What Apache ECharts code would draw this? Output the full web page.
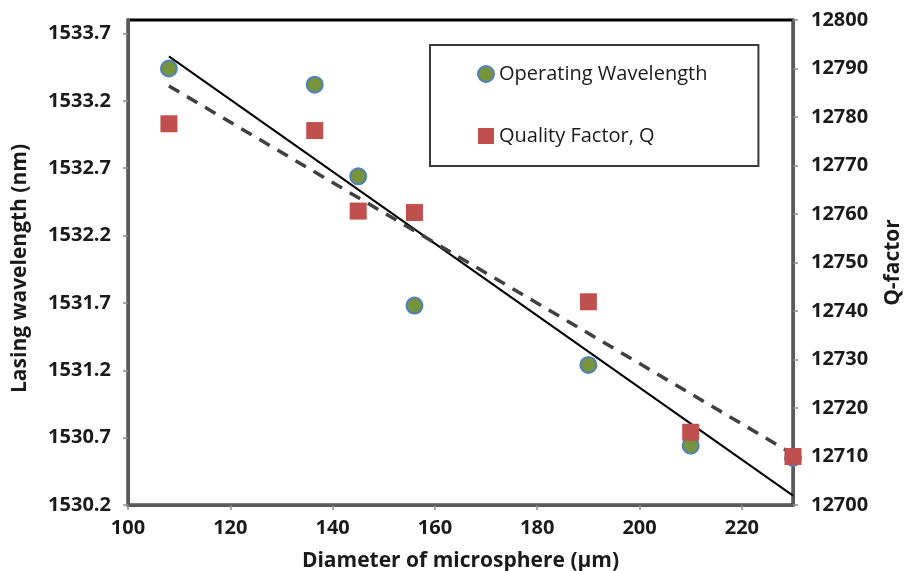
<!DOCTYPE html>
<html>
<head>
<meta charset="utf-8">
<script src="https://cdn.jsdelivr.net/npm/echarts@6/dist/echarts.min.js"></script>
<style>html,body{margin:0;padding:0;background:#fff}#c{width:904px;height:571px}</style>
</head>
<body>
<div id="c"></div>
<script>
// Diameter of microsphere (µm)
const diameters = [108, 136.5, 145, 156, 190, 210, 230];
// Operating wavelength (nm), left axis
const wavelength = [1533.44, 1533.32, 1532.64, 1531.68, 1531.24, 1530.64, 1530.55];
// Quality factor, right axis
const qFactor = [12778.6, 12777.2, 12760.6, 12760.3, 12741.9, 12715.0, 12710.0];
// Linear trendline end points
const wlTrendX = [108, 230];
const wlTrendY = [1533.53, 1530.27];
const qTrendX = [108, 230];
const qTrendY = [12786.4, 12710.5];
// Tick labels
const xTicks = [100, 120, 140, 160, 180, 200, 220];
const leftTicks = [1530.2, 1530.7, 1531.2, 1531.7, 1532.2, 1532.7, 1533.2, 1533.7];
const rightTicks = [12700, 12710, 12720, 12730, 12740, 12750, 12760, 12770, 12780, 12790, 12800];

const pairs = (xs, ys) => xs.map((x, i) => [x, ys[i]]);
const FONT = '"Open Sans", "Liberation Sans", sans-serif';
const labelStyle = {fontFamily: FONT, fontWeight: 'bold', fontSize: 20, color: '#1a1a1a'};
const titleStyle = {fontFamily: FONT, fontWeight: 'bold', fontSize: 21, color: '#1a1a1a'};
const axisLineGray = {show: true, lineStyle: {color: '#5a5a5a', width: 3}};
const tickGray = {show: true, length: 5, lineStyle: {color: '#8c8c8c', width: 1.5}};

const chart = echarts.init(document.getElementById('c'), null, {renderer: 'canvas'});
chart.setOption({
  animation: false,
  backgroundColor: '#ffffff',
  grid: {left: 128, right: 111, top: 20, bottom: 66, outerBoundsMode: 'none', containLabel: false,
         show: true, borderColor: '#000', borderWidth: 3, backgroundColor: 'transparent'},
  legend: {
    orient: 'vertical',
    left: 430, top: 45,
    padding: [19, 51, 20, 47],
    itemGap: 42,
    itemWidth: 16, itemHeight: 16,
    borderColor: '#3a3a3a', borderWidth: 2,
    backgroundColor: '#fff',
    textStyle: {fontFamily: FONT, fontSize: 20, color: '#1a1a1a'},
    data: [
      {name: 'Operating Wavelength', icon: 'circle'},
      {name: 'Quality Factor, Q', icon: 'rect'}
    ]
  },
  xAxis: {
    type: 'value', min: 100, max: 230,
    splitLine: {show: false},
    axisLine: axisLineGray,
    axisTick: Object.assign({customValues: xTicks}, tickGray),
    axisLabel: Object.assign({customValues: xTicks, margin: 13}, labelStyle),
    name: 'Diameter of microsphere (µm)', nameLocation: 'middle', nameGap: 46,
    nameTextStyle: titleStyle
  },
  yAxis: [
    {
      type: 'value', min: 1530.2, max: 1533.8, position: 'left',
      splitLine: {show: false},
      axisLine: axisLineGray,
      axisTick: Object.assign({customValues: leftTicks}, tickGray),
      axisLabel: Object.assign({customValues: leftTicks, margin: 17, formatter: v => v.toFixed(1)}, labelStyle),
      name: 'Lasing wavelength (nm)', nameLocation: 'middle', nameGap: 97, nameRotate: 90,
      nameTextStyle: Object.assign({padding: [0, 12, 0, 0]}, titleStyle)
    },
    {
      type: 'value', min: 12700, max: 12800, interval: 10, position: 'right',
      splitLine: {show: false},
      axisLine: axisLineGray,
      axisTick: tickGray,
      axisLabel: Object.assign({customValues: rightTicks, margin: 18, formatter: v => String(v)}, labelStyle),
      name: 'Q-factor', nameLocation: 'middle', nameGap: 90, nameRotate: 90,
      nameTextStyle: titleStyle
    }
  ],
  series: [
    {
      name: 'wlTrend', type: 'line', yAxisIndex: 0, data: pairs(wlTrendX, wlTrendY),
      symbol: 'none', lineStyle: {color: '#000', width: 2}, silent: true, z: 2
    },
    {
      name: 'qTrend', type: 'line', yAxisIndex: 1, data: pairs(qTrendX, qTrendY),
      symbol: 'none', lineStyle: {color: '#404040', width: 3.5, type: [12, 9]}, silent: true, z: 2
    },
    {
      name: 'Operating Wavelength', type: 'scatter', yAxisIndex: 0, data: pairs(diameters, wavelength),
      symbol: 'circle', symbolSize: 16,
      itemStyle: {color: '#77933C', borderColor: '#4F81BD', borderWidth: 2, opacity: 1}, z: 3
    },
    {
      name: 'Quality Factor, Q', type: 'scatter', yAxisIndex: 1, data: pairs(diameters, qFactor),
      symbol: 'rect', symbolSize: 17,
      itemStyle: {color: '#C0504D', opacity: 1}, z: 4
    }
  ]
});
</script>
</body>
</html>
